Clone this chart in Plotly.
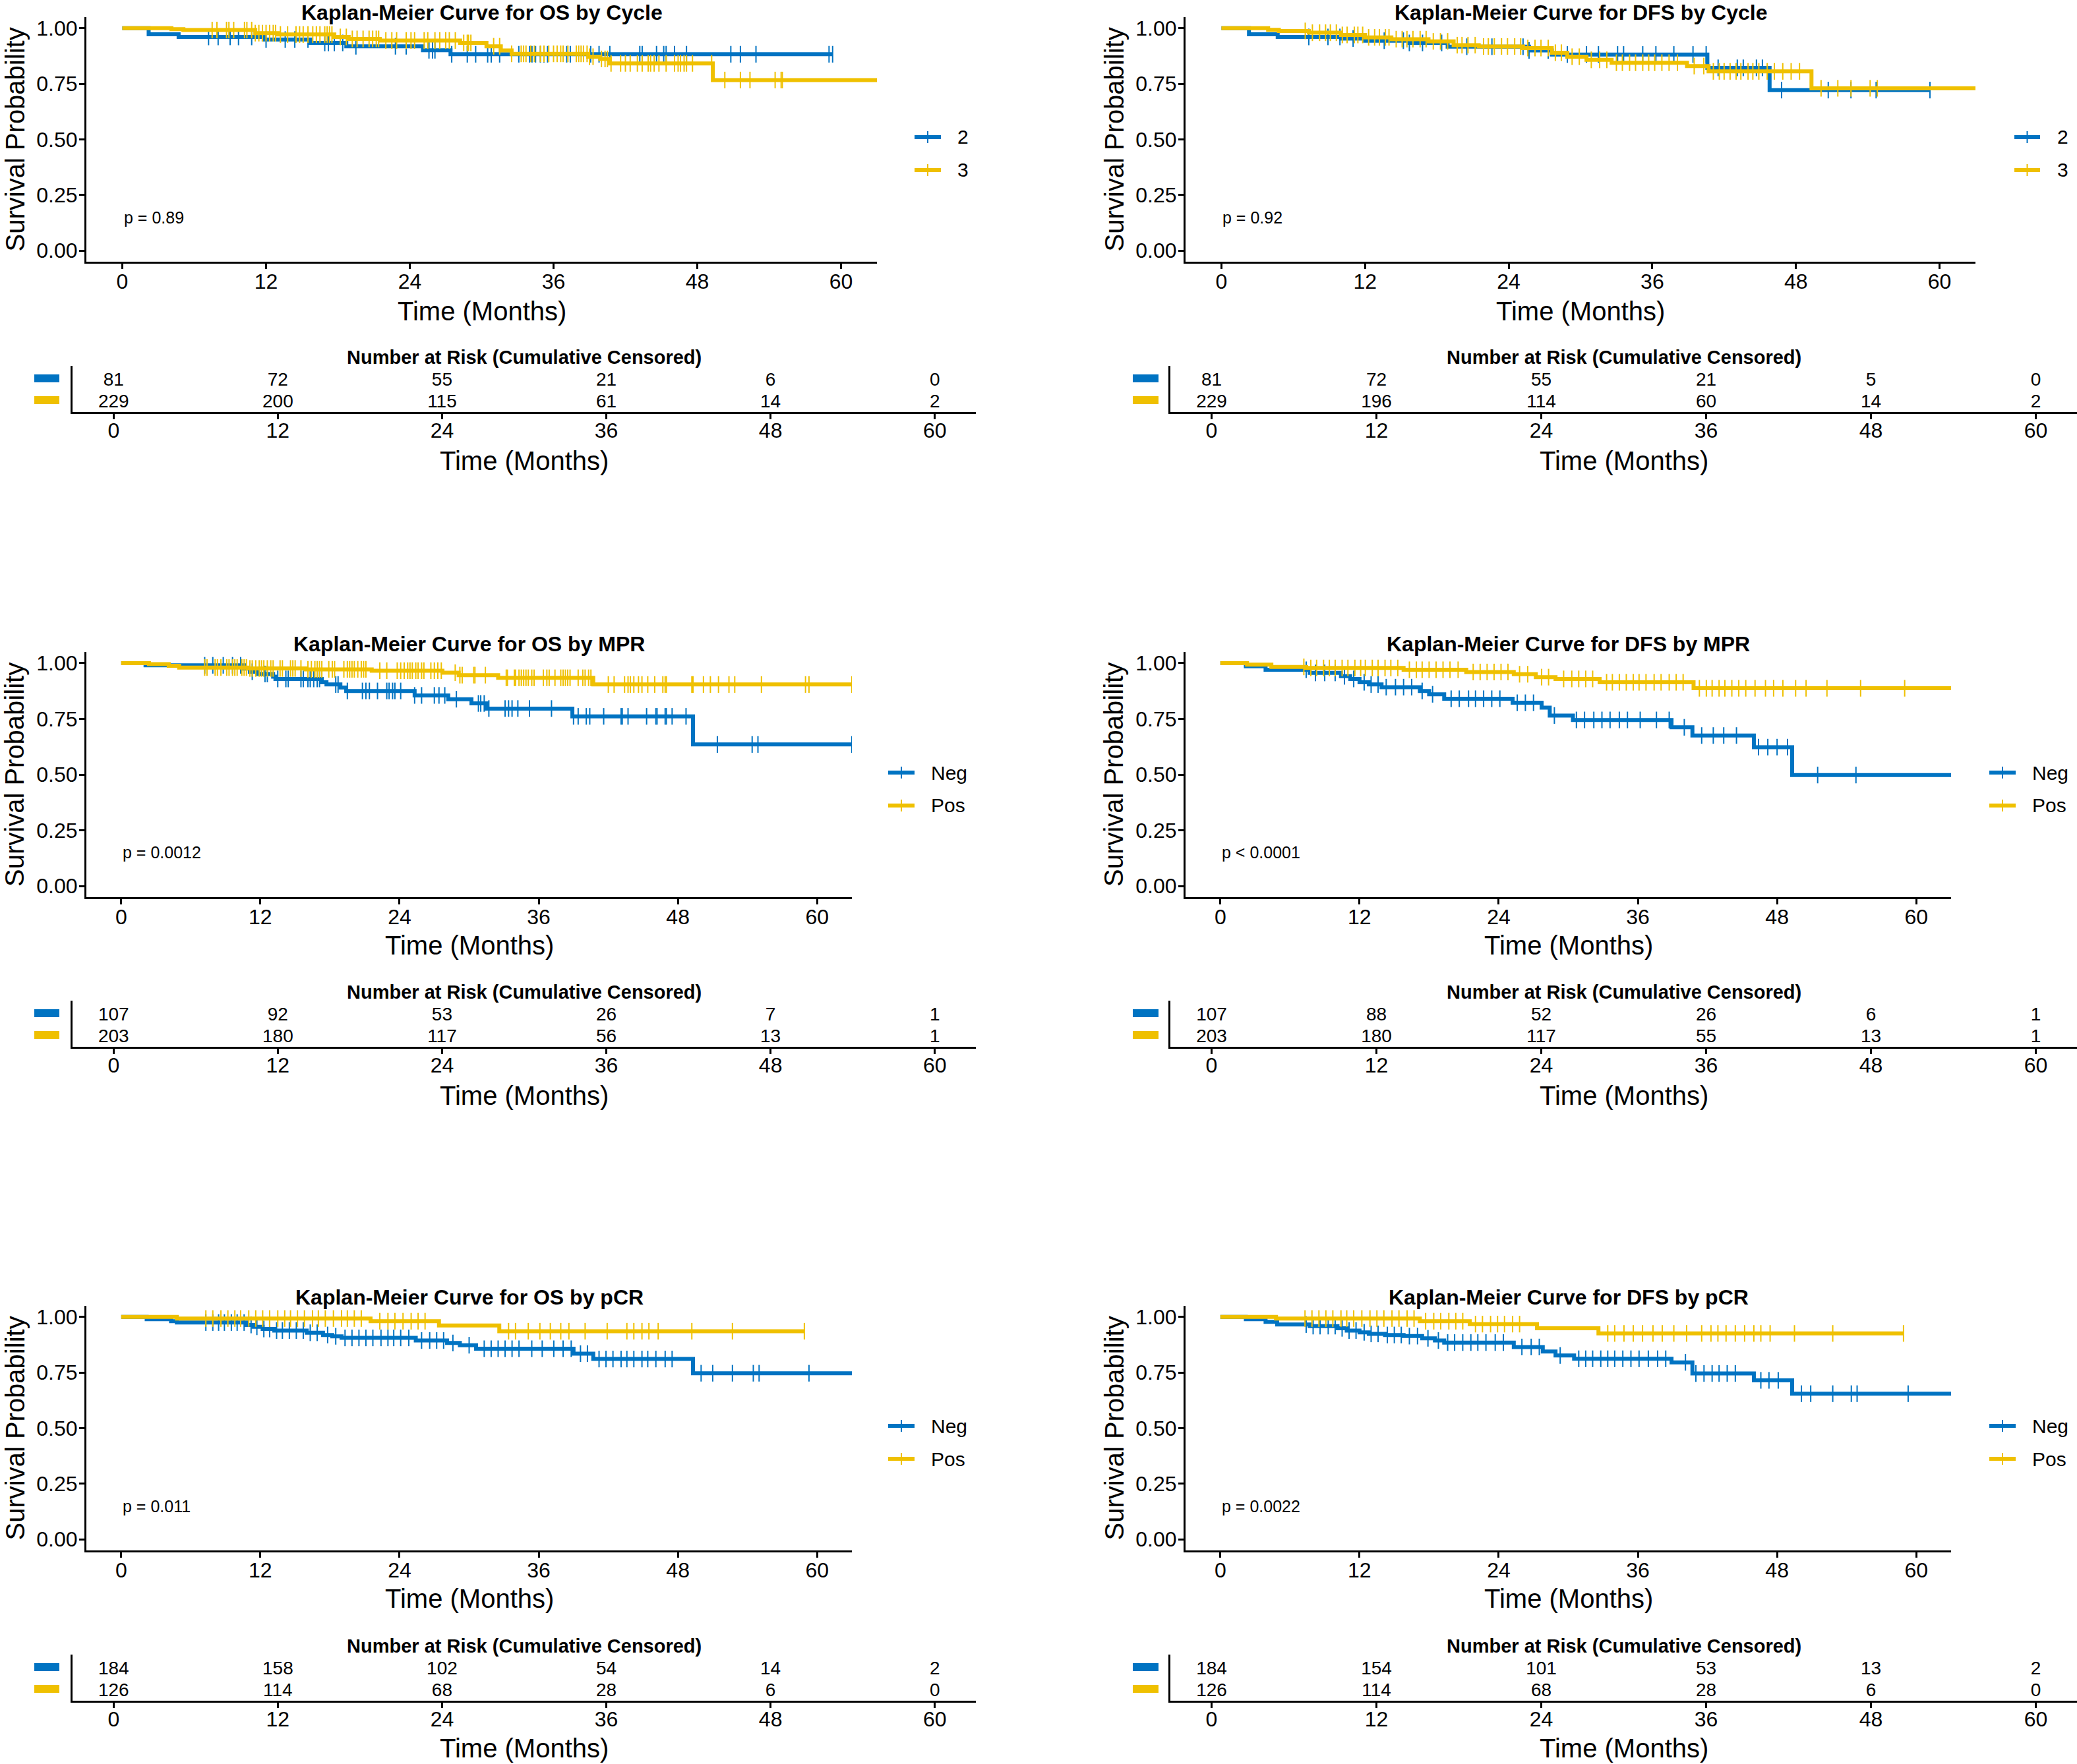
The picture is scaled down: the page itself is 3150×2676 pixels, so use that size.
import plotly.graph_objects as go

W, H = 3150, 2676
BLUE = "#0073C2"
YELLOW = "#EFC000"
FONT = "Liberation Sans"

risk_times = [0, 12, 24, 36, 48, 60]
x_ticks = [0, 12, 24, 36, 48, 60]
y_ticks = [0, 0.25, 0.5, 0.75, 1.0]
y_ticktext = ["0.00", "0.25", "0.50", "0.75", "1.00"]

# ---------------- Panel 1: OS by Cycle ----------------
os_cyc2_t = [2.2, 4.7, 11.8, 15.7, 18.7, 25.1, 27.4]
os_cyc2_s = [0.973, 0.961, 0.949, 0.934, 0.919, 0.901, 0.883]
os_cyc2_end = 59.3
os_cyc2_cens = [7.2, 8.0, 9.0, 9.7, 10.8, 12.0, 13.6, 14.4, 15.5, 16.9, 17.2, 17.7, 18.4, 19.5, 22.8,
                23.7, 25.6, 25.9, 26.1, 27.5, 28.8, 29.5, 30.5, 30.8, 31.5, 33.1, 34.0, 34.2, 34.5,
                34.9, 35.2, 35.5, 37.1, 37.4, 39.1, 39.8, 40.7, 43.2, 43.4, 44.6, 45.2, 45.4, 46.1,
                47.1, 50.8, 51.6, 52.9, 59.0, 59.3]
os_cyc3_t = [4.1, 5.1, 11.1, 13.0, 17.7, 18.9, 21.5, 28.2, 30.4, 31.6, 32.5, 38.9, 39.9, 40.7, 49.3]
os_cyc3_s = [0.996, 0.992, 0.978, 0.972, 0.961, 0.952, 0.945, 0.934, 0.919, 0.900, 0.885, 0.872, 0.862,
             0.842, 0.767]
os_cyc3_end = 64.0
os_cyc3_cens = [7.5, 7.9, 8.7, 8.9, 9.3, 10.2, 10.4, 10.8, 11.1, 11.4, 11.7, 12.0, 12.3, 12.6, 12.8, 13.2,
                13.8, 14.5, 14.8, 15.1, 15.5, 15.9, 16.2, 16.5, 16.9, 17.1, 17.3, 17.5, 18.2, 18.7, 19.2,
                19.6, 20.1, 20.6, 20.9, 21.2, 21.4, 22.0, 22.5, 22.9, 23.7, 24.1, 24.4, 25.2, 25.5, 26.1,
                26.5, 27.0, 27.3, 27.8, 28.5, 28.8, 28.9, 29.1, 31.0, 31.5, 32.5, 33.3, 33.5, 33.7, 34.1,
                34.4, 34.9, 35.2, 35.6, 36.0, 36.3, 36.6, 36.8, 37.2, 37.9, 38.1, 38.3, 38.5, 38.8, 39.0,
                39.3, 40.0, 40.3, 40.5, 40.8, 41.6, 42.0, 42.4, 43.0, 43.4, 43.9, 44.1, 44.4, 44.8, 45.4,
                46.1, 46.4, 46.6, 46.9, 47.1, 47.6, 49.2, 50.3, 51.6, 52.4, 54.5, 55.0, 55.1, 63.1]
os_cyc_risk2 = [81, 72, 55, 21, 6, 0]
os_cyc_risk3 = [229, 200, 115, 61, 14, 2]

# ---------------- Panel 2: DFS by Cycle ----------------
dfs_cyc2_t = [2.3, 4.7, 10.0, 12.0, 15.7, 18.9, 25.7, 27.6, 40.6, 45.8]
dfs_cyc2_s = [0.973, 0.961, 0.954, 0.944, 0.934, 0.917, 0.900, 0.882, 0.822, 0.722]
dfs_cyc2_end = 59.2
dfs_cyc2_cens = [7.3, 8.9, 9.9, 11.0, 13.6, 15.2, 15.7, 16.8, 18.4, 20.5, 22.6, 25.2, 25.7, 27.3, 28.9,
                 30.5, 31.5, 33.1, 33.6, 35.2, 36.3, 37.8, 39.4, 40.5, 41.5, 43.1, 43.6, 44.7, 45.2,
                 46.8, 50.7, 52.6, 54.7, 59.2]
dfs_cyc3_t = [3.9, 4.8, 7.3, 10.0, 12.0, 14.2, 17.3, 19.4, 21.5, 25.2, 27.6, 28.9, 30.5, 32.6, 38.9, 40.7, 49.3]
dfs_cyc3_s = [0.993, 0.988, 0.980, 0.970, 0.959, 0.951, 0.941, 0.924, 0.918, 0.911, 0.890, 0.872, 0.858,
              0.845, 0.830, 0.806, 0.730]
dfs_cyc3_end = 64.0
dfs_cyc3_cens = [7.0, 7.6, 8.2, 8.7, 9.1, 9.6, 10.1, 10.5, 11.1, 11.4, 11.8, 12.3, 12.8, 13.2, 13.7, 14.0,
                 14.6, 15.1, 15.5, 16.0, 16.6, 17.1, 17.7, 18.3, 18.9, 19.7, 20.1, 20.6, 21.2, 21.9, 22.3,
                 22.8, 23.4, 23.9, 24.5, 25.0, 25.6, 26.2, 26.7, 27.3, 27.9, 28.4, 29.3, 29.9, 30.9, 31.6,
                 32.2, 33.0, 33.5, 34.1, 34.6, 35.2, 35.7, 36.2, 36.8, 37.4, 38.1, 39.5, 40.3, 41.1, 41.6,
                 42.0, 42.5, 43.0, 43.4, 44.0, 44.4, 44.9, 45.6, 46.2, 46.9, 47.6, 48.3, 50.1, 51.5, 52.6,
                 54.2, 54.8]
dfs_cyc_risk2 = [81, 72, 55, 21, 5, 0]
dfs_cyc_risk3 = [229, 196, 114, 60, 14, 2]

# ---------------- Panel 3: OS by MPR ----------------
os_mpr_neg_t = [2.1, 10.6, 11.1, 11.8, 13.1, 13.3, 17.3, 17.7, 18.9, 19.4, 25.3, 28.2, 30.2, 31.5, 38.9, 49.3]
os_mpr_neg_s = [0.990, 0.975, 0.961, 0.951, 0.939, 0.929, 0.914, 0.904, 0.890, 0.875, 0.855, 0.838, 0.819,
                0.796, 0.761, 0.635]
os_mpr_neg_end = 64.0
os_mpr_neg_cens = [7.2, 7.9, 8.8, 9.6, 10.3, 11.3, 12.4, 12.6, 13.5, 14.2, 14.4, 15.5, 15.7, 16.1, 16.3,
                   16.6, 16.9, 17.1, 18.5, 18.7, 19.5, 20.8, 21.1, 21.4, 22.1, 22.9, 23.1, 23.4, 23.6,
                   24.1, 25.3, 25.9, 27.0, 27.4, 27.9, 28.9, 30.8, 31.0, 31.3, 31.7, 33.1, 33.4, 33.7,
                   34.2, 35.2, 37.1, 39.0, 39.4, 40.1, 40.4, 41.6, 43.1, 43.2, 43.7, 45.3, 46.1, 46.2,
                   46.9, 47.0, 47.5, 48.7, 51.4, 54.4, 54.9, 63.0]
os_mpr_pos_t = [2.4, 4.1, 5.0, 10.9, 15.9, 21.6, 27.7, 29.1, 32.5, 40.7]
os_mpr_pos_s = [0.995, 0.988, 0.980, 0.976, 0.972, 0.966, 0.957, 0.946, 0.934, 0.904]
os_mpr_pos_end = 64.0
os_mpr_pos_cens = [7.2, 7.4, 8.1, 8.3, 8.6, 9.1, 9.3, 9.6, 9.8, 10.0, 10.4, 10.6, 10.8, 11.1, 11.3, 11.6,
                   11.9, 12.1, 12.3, 12.6, 12.9, 13.1, 13.7, 13.9, 14.6, 14.8, 15.0, 15.5, 16.1, 16.4,
                   16.7, 16.9, 17.1, 17.3, 17.9, 18.2, 18.4, 19.2, 19.5, 19.7, 19.9, 20.1, 20.4, 20.7,
                   20.9, 21.1, 22.3, 22.9, 23.8, 24.1, 24.4, 24.7, 24.9, 25.1, 25.4, 25.6, 25.9, 26.1,
                   26.7, 27.0, 27.3, 27.6, 28.8, 29.2, 29.4, 30.4, 30.5, 31.4, 33.2, 33.3, 33.9, 34.0,
                   34.3, 34.5, 34.7, 34.9, 35.1, 35.4, 35.6, 36.4, 36.7, 36.9, 37.4, 37.9, 38.1, 38.3,
                   38.5, 38.7, 39.4, 39.8, 40.0, 40.3, 40.5, 42.0, 42.5, 43.4, 43.7, 43.9, 44.2, 44.6,
                   44.9, 45.4, 46.0, 46.7, 46.9, 47.0, 49.2, 49.3, 50.2, 50.8, 51.5, 52.4, 52.9, 55.2,
                   59.0, 59.3, 63.0]
os_mpr_risk_neg = [107, 92, 53, 26, 7, 1]
os_mpr_risk_pos = [203, 180, 117, 56, 13, 1]

# ---------------- Panel 4: DFS by MPR ----------------
dfs_mpr_neg_t = [2.2, 3.9, 7.7, 10.4, 11.2, 12.0, 12.8, 13.9, 17.2, 18.0, 19.3, 25.2, 27.7, 28.4, 30.4,
                 38.9, 40.7, 46.0, 49.3]
dfs_mpr_neg_s = [0.986, 0.970, 0.956, 0.941, 0.929, 0.914, 0.904, 0.892, 0.875, 0.860, 0.840, 0.822, 0.800,
                 0.765, 0.745, 0.712, 0.675, 0.623, 0.498]
dfs_mpr_neg_end = 64.0
dfs_mpr_neg_cens = [7.4, 8.2, 9.0, 9.9, 10.7, 11.5, 12.4, 13.0, 13.6, 14.3, 15.1, 15.8, 16.5, 17.4, 18.3,
                    19.9, 20.6, 21.4, 22.0, 22.7, 23.4, 24.1, 25.6, 26.3, 27.0, 28.8, 30.7, 31.4, 32.2,
                    32.9, 33.6, 34.4, 35.1, 36.2, 37.6, 38.7, 40.0, 41.5, 42.5, 43.4, 44.5, 46.4, 47.2,
                    48.0, 48.9, 51.5, 54.8]
dfs_mpr_pos_t = [2.3, 4.4, 7.4, 15.8, 21.2, 25.3, 27.2, 28.9, 32.7, 40.8]
dfs_mpr_pos_s = [0.993, 0.983, 0.978, 0.970, 0.960, 0.950, 0.937, 0.929, 0.914, 0.887]
dfs_mpr_pos_end = 64.0
dfs_mpr_pos_cens = [7.2, 7.8, 8.3, 8.9, 9.4, 9.9, 10.5, 11.0, 11.6, 12.1, 12.5, 13.1, 13.6, 14.2, 14.7,
                    15.3, 16.3, 16.9, 17.4, 18.0, 18.6, 19.2, 19.8, 20.5, 21.8, 22.4, 23.0, 23.6, 24.2,
                    24.8, 25.8, 26.5, 27.7, 28.3, 29.6, 30.3, 30.9, 31.5, 32.1, 33.3, 33.8, 34.4, 35.0,
                    35.6, 36.1, 36.7, 37.4, 38.0, 38.7, 39.3, 39.9, 41.3, 41.9, 42.4, 43.0, 43.5, 44.1,
                    44.7, 45.3, 46.1, 47.0, 47.7, 48.5, 49.6, 50.5, 52.3, 55.2, 59.0]
dfs_mpr_risk_neg = [107, 88, 52, 26, 6, 1]
dfs_mpr_risk_pos = [203, 180, 117, 55, 13, 1]

# ---------------- Panel 5: OS by pCR ----------------
os_pcr_neg_t = [2.2, 4.3, 4.8, 10.8, 11.4, 12.2, 13.2, 16.0, 17.4, 18.2, 19.0, 25.4, 28.1, 29.2, 30.6,
                39.0, 40.7, 49.3]
os_pcr_neg_s = [0.990, 0.981, 0.975, 0.964, 0.956, 0.946, 0.939, 0.929, 0.919, 0.913, 0.906, 0.894, 0.883,
                0.873, 0.857, 0.835, 0.811, 0.747]
os_pcr_neg_end = 64.0
os_pcr_neg_cens = [7.3, 7.9, 8.4, 8.9, 9.5, 10.0, 10.6, 11.2, 11.7, 12.3, 12.8, 13.4, 13.9, 14.5, 15.1,
                   15.7, 16.3, 16.9, 17.8, 18.5, 19.3, 19.9, 20.5, 21.1, 21.7, 22.4, 23.0, 23.5, 24.1,
                   24.8, 25.9, 26.6, 27.2, 27.8, 28.6, 30.0, 31.3, 31.9, 32.5, 33.1, 33.7, 34.3, 35.4,
                   36.3, 37.3, 38.1, 38.8, 39.6, 40.2, 41.2, 41.8, 42.4, 43.1, 43.6, 44.2, 44.9, 45.4,
                   46.1, 46.9, 47.5, 50.0, 51.0, 52.7, 54.5, 55.0, 59.3]
os_pcr_pos_t = [4.8, 21.5, 27.4, 32.6]
os_pcr_pos_s = [0.993, 0.981, 0.962, 0.936]
os_pcr_pos_end = 58.9
os_pcr_pos_cens = [7.3, 7.9, 8.6, 9.2, 9.8, 10.3, 11.0, 11.6, 12.2, 12.8, 13.5, 14.1, 14.6, 15.2, 15.8,
                   16.5, 17.0, 17.6, 18.3, 19.0, 19.5, 20.1, 20.7, 22.3, 23.0, 23.6, 24.3, 25.0, 25.6,
                   26.2, 33.4, 34.0, 35.1, 36.1, 37.0, 37.9, 38.6, 40.0, 41.9, 43.6, 44.2, 44.9, 45.5,
                   46.3, 49.2, 52.7, 58.9]
os_pcr_risk_neg = [184, 158, 102, 54, 14, 2]
os_pcr_risk_pos = [126, 114, 68, 28, 6, 0]

# ---------------- Panel 6: DFS by pCR ----------------
dfs_pcr_neg_t = [2.2, 3.9, 4.9, 7.7, 10.1, 10.9, 12.0, 12.8, 14.2, 15.8, 17.4, 18.5, 19.3, 25.3, 27.8,
                 28.9, 30.5, 38.9, 40.7, 46.0, 49.3]
dfs_pcr_neg_s = [0.990, 0.978, 0.966, 0.959, 0.949, 0.939, 0.931, 0.924, 0.919, 0.914, 0.904, 0.894, 0.885,
                 0.865, 0.845, 0.827, 0.812, 0.796, 0.746, 0.715, 0.655]
dfs_pcr_neg_end = 64.0
dfs_pcr_neg_cens = [7.4, 8.0, 8.6, 9.3, 9.9, 10.5, 11.1, 11.7, 12.4, 13.0, 13.6, 14.4, 15.0, 15.6, 16.3,
                    17.0, 17.9, 18.8, 19.6, 20.2, 20.9, 21.6, 22.2, 22.9, 23.7, 24.4, 26.0, 26.8, 27.5,
                    29.3, 30.9, 31.5, 32.1, 32.8, 33.4, 34.0, 34.7, 35.4, 36.1, 36.9, 37.7, 38.4, 40.1,
                    41.0, 41.7, 42.4, 43.0, 43.7, 44.4, 46.6, 47.3, 48.1, 50.1, 50.9, 52.8, 54.4, 54.9, 59.3]
dfs_pcr_pos_t = [4.8, 17.2, 21.5, 27.3, 32.6]
dfs_pcr_pos_s = [0.993, 0.981, 0.968, 0.949, 0.926]
dfs_pcr_pos_end = 58.9
dfs_pcr_pos_cens = [7.3, 7.9, 8.5, 9.1, 9.7, 10.4, 10.9, 11.5, 12.2, 12.9, 13.5, 14.1, 14.8, 15.4, 16.1,
                    16.7, 17.7, 18.4, 19.0, 19.7, 20.3, 20.9, 22.0, 22.6, 23.3, 23.9, 24.5, 25.2, 25.8,
                    33.4, 34.0, 34.8, 35.6, 36.4, 37.3, 38.1, 39.1, 40.2, 41.5, 42.3, 42.9, 43.6, 44.4,
                    45.2, 46.0, 46.6, 47.4, 49.5, 52.8, 58.9]
dfs_pcr_risk_neg = [184, 154, 101, 53, 13, 2]
dfs_pcr_risk_pos = [126, 114, 68, 28, 6, 0]

titles = ["Kaplan-Meier Curve for OS by Cycle", "Kaplan-Meier Curve for DFS by Cycle",
          "Kaplan-Meier Curve for OS by MPR", "Kaplan-Meier Curve for DFS by MPR",
          "Kaplan-Meier Curve for OS by pCR", "Kaplan-Meier Curve for DFS by pCR"]
p_texts = ["p = 0.89", "p = 0.92", "p = 0.0012", "p < 0.0001", "p = 0.011", "p = 0.0022"]
group_labels = [["2", "3"], ["2", "3"], ["Neg", "Pos"], ["Neg", "Pos"], ["Neg", "Pos"], ["Neg", "Pos"]]

curves = [
    [(os_cyc2_t, os_cyc2_s, os_cyc2_end, os_cyc2_cens), (os_cyc3_t, os_cyc3_s, os_cyc3_end, os_cyc3_cens)],
    [(dfs_cyc2_t, dfs_cyc2_s, dfs_cyc2_end, dfs_cyc2_cens), (dfs_cyc3_t, dfs_cyc3_s, dfs_cyc3_end, dfs_cyc3_cens)],
    [(os_mpr_neg_t, os_mpr_neg_s, os_mpr_neg_end, os_mpr_neg_cens), (os_mpr_pos_t, os_mpr_pos_s, os_mpr_pos_end, os_mpr_pos_cens)],
    [(dfs_mpr_neg_t, dfs_mpr_neg_s, dfs_mpr_neg_end, dfs_mpr_neg_cens), (dfs_mpr_pos_t, dfs_mpr_pos_s, dfs_mpr_pos_end, dfs_mpr_pos_cens)],
    [(os_pcr_neg_t, os_pcr_neg_s, os_pcr_neg_end, os_pcr_neg_cens), (os_pcr_pos_t, os_pcr_pos_s, os_pcr_pos_end, os_pcr_pos_cens)],
    [(dfs_pcr_neg_t, dfs_pcr_neg_s, dfs_pcr_neg_end, dfs_pcr_neg_cens), (dfs_pcr_pos_t, dfs_pcr_pos_s, dfs_pcr_pos_end, dfs_pcr_pos_cens)],
]
risks = [[os_cyc_risk2, os_cyc_risk3], [dfs_cyc_risk2, dfs_cyc_risk3],
         [os_mpr_risk_neg, os_mpr_risk_pos], [dfs_mpr_risk_neg, dfs_mpr_risk_pos],
         [os_pcr_risk_neg, os_pcr_risk_pos], [dfs_pcr_risk_neg, dfs_pcr_risk_pos]]
colors = [BLUE, YELLOW]

# ---------------- layout geometry (pixels) ----------------
km_x = {(0, 0): (131, 1330), (0, 1): (1798, 2996)}
km_x_other = {0: (131, 1292), 1: (1798, 2959)}
risk_x = {0: (110, 1480), 1: (1775, 3150)}
key_x = {0: (52, 90), 1: (1718, 1757)}
# legend: (line start, line end, label left)
leg_geo = {(0, 0): (1387, 1427, 1450), (0, 1): (3055, 3094, 3118)}
leg_geo_other = {0: (1347, 1387, 1410), 1: (3017, 3057, 3080)}
rows = [
    dict(km=(26, 397), title=19, xtitle=472, rtitle=542, risk=(555, 625), rxtitle=699, leg=(208, 258)),
    dict(km=(989, 1361), title=977, xtitle=1434, rtitle=1505, risk=(1518, 1588), rxtitle=1662, leg=(1172, 1222)),
    dict(km=(1981, 2352), title=1968, xtitle=2425, rtitle=2497, risk=(2510, 2580), rxtitle=2652, leg=(2163, 2213)),
]
RISK_YR = [0.45, 2.575]
TEXT_DROP = 0.12  # small downward nudge of risk numbers (axis units)


def px(p):
    return p / W


def py(p):
    return 1 - p / H


def surv_at(t_list, s_list, c):
    val = 1.0
    for t, s in zip(t_list, s_list):
        if t <= c:
            val = s
    return val


fig = go.Figure()
annotations = []
shapes = []
layout = {}

axis_common = dict(showline=True, linecolor="black", linewidth=3, ticks="outside", ticklen=8,
                   tickwidth=3, tickcolor="black", showgrid=False, zeroline=False, automargin=False,
                   tickfont=dict(family=FONT, size=32, color="black"))

for k in range(6):
    row, col = divmod(k, 2)
    R = rows[row]
    ia, ib = 2 * k + 1, 2 * k + 2
    xa = "x" if ia == 1 else f"x{ia}"
    ya = "y" if ia == 1 else f"y{ia}"
    xb, yb = f"x{ib}", f"y{ib}"
    kx = km_x.get((row, col), km_x_other[col])
    lg = leg_geo.get((row, col), leg_geo_other[col])
    rx = risk_x[col]

    layout["xaxis" if ia == 1 else f"xaxis{ia}"] = dict(
        axis_common, domain=[px(kx[0]), px(kx[1])], anchor=ya, range=[-3, 63], tickvals=x_ticks,
        ticklabelstandoff=-8)
    layout["yaxis" if ia == 1 else f"yaxis{ia}"] = dict(
        axis_common, domain=[py(R["km"][1]), py(R["km"][0])], anchor=xa, range=[-0.05, 1.05],
        tickvals=y_ticks, ticktext=y_ticktext, ticklabelstandoff=-4)
    layout[f"xaxis{ib}"] = dict(
        axis_common, domain=[px(rx[0]), px(rx[1])], anchor=yb, range=[-3, 63], tickvals=x_ticks,
        ticklabelstandoff=-10)
    layout[f"yaxis{ib}"] = dict(
        showline=True, linecolor="black", linewidth=3, ticks="", showticklabels=False,
        showgrid=False, zeroline=False, automargin=False,
        domain=[py(R["risk"][1]), py(R["risk"][0])], anchor=xb, range=RISK_YR)

    for g in range(2):
        t_list, s_list, end, cens = curves[k][g]
        c = colors[g]
        xs = [0] + list(t_list) + [end]
        ys = [1.0] + list(s_list) + [s_list[-1]]
        fig.add_trace(go.Scatter(x=xs, y=ys, mode="lines", line=dict(color=c, width=6, shape="hv"),
                                 xaxis=xa, yaxis=ya, showlegend=False, hoverinfo="skip"))
        fig.add_trace(go.Scatter(x=cens, y=[surv_at(t_list, s_list, v) for v in cens], mode="markers",
                                 marker=dict(symbol="line-ns", size=18, color=c, line=dict(width=2, color=c)),
                                 xaxis=xa, yaxis=ya, showlegend=False, hoverinfo="skip"))
        # risk table row
        yrow = 2 if g == 0 else 1
        fig.add_trace(go.Scatter(x=risk_times, y=[yrow - TEXT_DROP] * len(risk_times), mode="text",
                                 text=[str(v) for v in risks[k][g]],
                                 textfont=dict(family=FONT, size=28, color="black"),
                                 xaxis=xb, yaxis=yb, showlegend=False, hoverinfo="skip", cliponaxis=False))
        # colored key in the risk table
        ry0, ry1 = R["risk"]
        ypix = ry0 + (RISK_YR[1] - yrow) / (RISK_YR[1] - RISK_YR[0]) * (ry1 - ry0)
        shapes.append(dict(type="rect", xref="paper", yref="paper",
                           x0=px(key_x[col][0]), x1=px(key_x[col][1]),
                           y0=py(ypix + 6), y1=py(ypix - 6), fillcolor=c, line=dict(width=0)))
        # legend key (line with censor tick) and label
        ly = R["leg"][g]
        shapes.append(dict(type="line", xref="paper", yref="paper", x0=px(lg[0]), x1=px(lg[1]),
                           y0=py(ly), y1=py(ly), line=dict(color=c, width=6)))
        mx = (lg[0] + lg[1]) / 2
        shapes.append(dict(type="line", xref="paper", yref="paper", x0=px(mx), x1=px(mx),
                           y0=py(ly - 9), y1=py(ly + 9), line=dict(color=c, width=2)))
        annotations.append(dict(text=group_labels[k][g], x=px(lg[2]), y=py(ly), xref="paper", yref="paper",
                                xanchor="left", yanchor="middle", showarrow=False,
                                font=dict(family=FONT, size=30, color="black")))

    kcx = (kx[0] + kx[1]) / 2
    annotations.append(dict(text=f"<b>{titles[k]}</b>", x=px(kcx), y=py(R["title"]), xref="paper",
                            yref="paper", xanchor="center", yanchor="middle", showarrow=False,
                            font=dict(family=FONT, size=32, color="black")))
    annotations.append(dict(text="Survival Probability", x=px(kx[0] - 109), y=py((R["km"][0] + R["km"][1]) / 2),
                            xref="paper", yref="paper", xanchor="center", yanchor="middle", textangle=-90,
                            showarrow=False, font=dict(family=FONT, size=40, color="black")))
    annotations.append(dict(text="Time (Months)", x=px(kcx), y=py(R["xtitle"]), xref="paper", yref="paper",
                            xanchor="center", yanchor="middle", showarrow=False,
                            font=dict(family=FONT, size=40, color="black")))
    annotations.append(dict(text=p_texts[k], x=0, y=0.15, xref=xa, yref=ya, xanchor="left", yanchor="middle",
                            showarrow=False, font=dict(family=FONT, size=25, color="black")))
    rcx = (rx[0] + rx[1]) / 2
    annotations.append(dict(text="<b>Number at Risk (Cumulative Censored)</b>", x=px(rcx), y=py(R["rtitle"]),
                            xref="paper", yref="paper", xanchor="center", yanchor="middle", showarrow=False,
                            font=dict(family=FONT, size=29, color="black")))
    annotations.append(dict(text="Time (Months)", x=px(rcx), y=py(R["rxtitle"]), xref="paper", yref="paper",
                            xanchor="center", yanchor="middle", showarrow=False,
                            font=dict(family=FONT, size=40, color="black")))

fig.update_layout(width=W, height=H, margin=dict(l=0, r=0, t=0, b=0), paper_bgcolor="white",
                  plot_bgcolor="white", annotations=annotations, shapes=shapes, showlegend=False,
                  font=dict(family=FONT, color="black"), **layout)

fig.write_html("out.html", config={"displayModeBar": False},
               post_script="document.body.style.margin='0px';")
